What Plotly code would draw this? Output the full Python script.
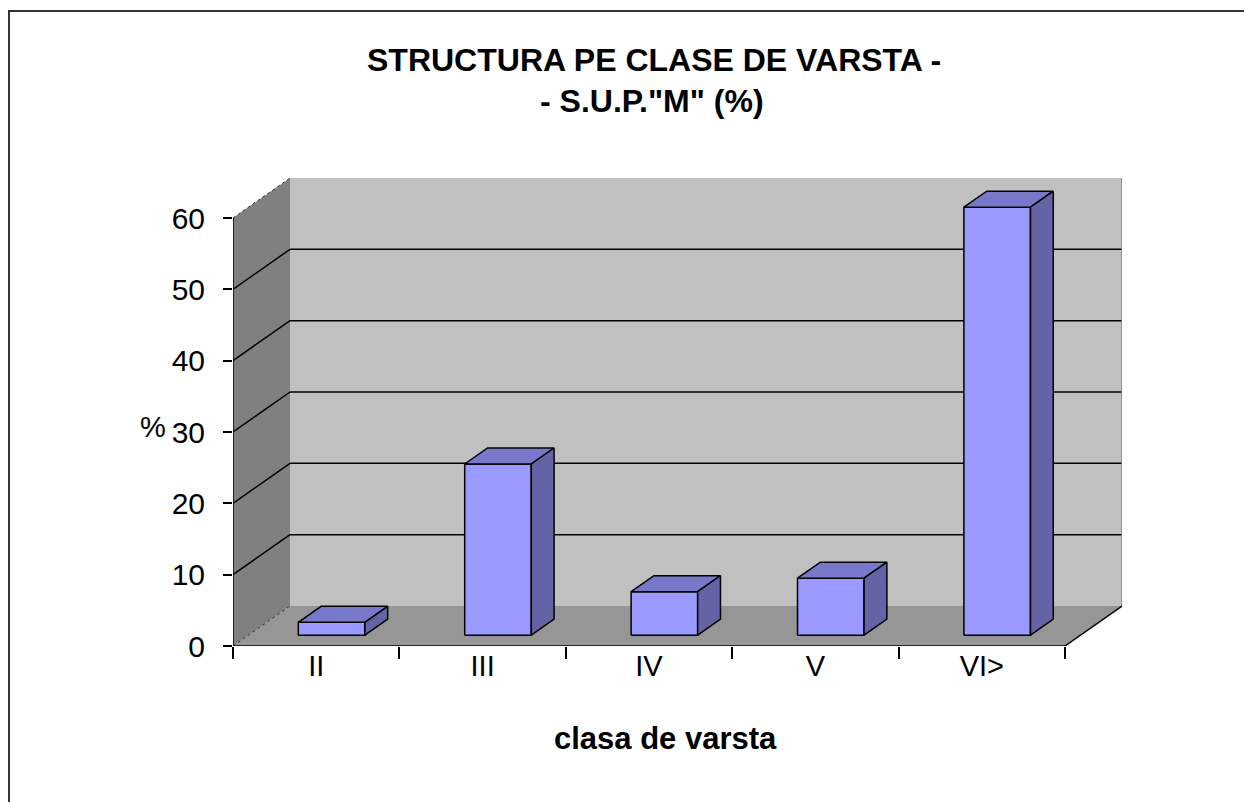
import plotly.graph_objects as go

# ---------------- data ----------------
categories = ["II", "III", "IV", "V", "VI>"]
values = [1.8, 24.0, 6.1, 8.0, 60.0]
y_ticks = [0, 10, 20, 30, 40, 50, 60]
title_lines = ["STRUCTURA PE CLASE DE VARSTA -", '- S.U.P."M" (%)']
x_title = "clasa de varsta"
y_title = "%"

# ---------------- layout constants ----------------
W, H = 1244, 802
L, R, T, B = 233, 1122, 178, 646          # plot area in pixels
YMAX = 60
OX = 57 / 166.4                            # depth offset in category units
OY = 40 / (428 / 60)                       # depth offset in value units
NC = len(categories)
D0, D1 = 0.27, 0.67                        # bar depth (front/back)
HW = 0.2                                   # half bar width (category units)

FONT = "Liberation Sans, Arial, sans-serif"
WALL_BACK = "#C0C0C0"
WALL_LEFT = "#808080"
FLOOR = "#969696"
BAR_FRONT = "#9999FF"
BAR_TOP = "#7878CA"
BAR_SIDE = "#6363A6"


def px_x(px):
    return (px - L) / (R - L)


def px_y(py):
    return (B - py) / (B - T)


def proj(x, y, d):
    return x + d * OX, y + d * OY


fig = go.Figure()


def poly(pts, fill, line_color=None, line_width=0):
    xs = [p[0] for p in pts] + [pts[0][0]]
    ys = [p[1] for p in pts] + [pts[0][1]]
    fig.add_trace(go.Scatter(
        x=xs, y=ys, mode="lines", fill="toself", fillcolor=fill,
        line=dict(color=line_color or fill, width=line_width),
        hoverinfo="skip", showlegend=False, cliponaxis=False))


def seg(p, q, color="black", width=1.5, dash="solid"):
    fig.add_trace(go.Scatter(
        x=[p[0], q[0]], y=[p[1], q[1]], mode="lines",
        line=dict(color=color, width=width, dash=dash),
        hoverinfo="skip", showlegend=False, cliponaxis=False))


# walls and floor
poly([proj(0, 0, 1), proj(NC, 0, 1), proj(NC, YMAX, 1), proj(0, YMAX, 1)], WALL_BACK)
poly([proj(0, 0, 0), proj(0, 0, 1), proj(0, YMAX, 1), proj(0, YMAX, 0)], WALL_LEFT)
poly([proj(0, 0, 0), proj(NC, 0, 0), proj(NC, 0, 1), proj(0, 0, 1)], FLOOR)

# gridlines
for v in y_ticks[1:-1]:
    seg(proj(0, v, 1), proj(NC, v, 1))
    seg(proj(0, v, 0), proj(0, v, 1))
seg(proj(0, YMAX, 0), proj(0, YMAX, 1), color="#333333", width=1, dash="dot")
seg(proj(0, 0, 0), proj(0, 0, 1), color="#333333", width=1, dash="dot")
seg(proj(NC, 0, 1), proj(NC, YMAX, 1), color="#808080", width=1.5)

# axes lines
seg(proj(0, 0, 0), proj(0, YMAX, 0))
seg(proj(0, 0, 0), proj(NC, 0, 0))
seg(proj(NC, 0, 0), proj(NC, 0, 1))

# bars
dd = D1 - D0
for i, v in enumerate(values):
    c = i + 0.5
    xl, y0 = proj(c - HW, 0, D0)
    xr, _ = proj(c + HW, 0, D0)
    y1 = v + D0 * OY
    bx, by = dd * OX, dd * OY
    poly([(xl, y0), (xr, y0), (xr, y1), (xl, y1)], BAR_FRONT, "black", 1.5)
    poly([(xl, y1), (xr, y1), (xr + bx, y1 + by), (xl + bx, y1 + by)], BAR_TOP, "black", 1.5)
    poly([(xr, y0), (xr + bx, y0 + by), (xr + bx, y1 + by), (xr, y1)], BAR_SIDE, "black", 1.5)

# text
annotations = [
    dict(text=f"<b>{title_lines[0]}</b>", x=px_x(654), y=px_y(60)),
    dict(text=f"<b>{title_lines[1]}</b>", x=px_x(652), y=px_y(101)),
]
for a in annotations:
    a.update(xref="paper", yref="paper", showarrow=False, xanchor="center",
             yanchor="middle", font=dict(family=FONT, size=32, color="black"))
annotations.append(dict(text=f"<b>{x_title}</b>", x=px_x(665), y=px_y(738),
                        xref="paper", yref="paper", showarrow=False,
                        xanchor="center", yanchor="middle",
                        font=dict(family=FONT, size=31, color="black")))
annotations.append(dict(text=y_title, x=px_x(168), y=px_y(427),
                        xref="paper", yref="paper", showarrow=False,
                        xanchor="right", yanchor="middle",
                        font=dict(family=FONT, size=29, color="black")))

fig.update_layout(
    width=W, height=H,
    margin=dict(l=L, r=W - R, t=T, b=H - B, pad=0),
    paper_bgcolor="white", plot_bgcolor="white",
    showlegend=False,
    annotations=annotations,
    xaxis=dict(range=[0, NC + OX], showgrid=False, zeroline=False, showline=False,
               tickmode="array", tickvals=[i + 0.5 for i in range(NC)],
               ticktext=categories, ticks="", ticklabelstandoff=0,
               tickfont=dict(family=FONT, size=29, color="black"),
               minor=dict(tickmode="array", tickvals=list(range(NC + 1)),
                          ticks="outside", ticklen=12, tickwidth=1.5,
                          tickcolor="black", showgrid=False),
               fixedrange=True),
    yaxis=dict(range=[0, YMAX + OY], showgrid=False, zeroline=False, showline=False,
               tickmode="array", tickvals=y_ticks, ticks="outside", ticklen=9,
               tickwidth=1.5, tickcolor="black", ticklabelstandoff=12,
               tickfont=dict(family=FONT, size=30, color="black"),
               fixedrange=True),
    shapes=[dict(type="rect", xref="paper", yref="paper",
                 x0=px_x(9), x1=px_x(1300), y0=px_y(11), y1=px_y(860),
                 line=dict(color="#333333", width=2), fillcolor="rgba(0,0,0,0)",
                 layer="above")],
)

fig.write_html("out.html",
               config={"displayModeBar": False},
               post_script="document.body.style.margin='0px';"
                           "document.body.style.overflow='hidden';")
